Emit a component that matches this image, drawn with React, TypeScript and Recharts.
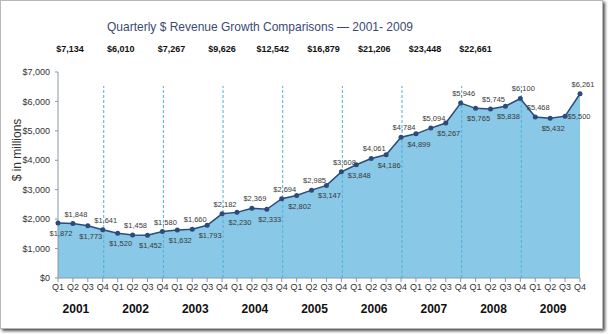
import React from 'react';
import { AreaChart, Area, XAxis, YAxis, ReferenceLine, LabelList } from 'recharts';

const years = ['2001', '2002', '2003', '2004', '2005', '2006', '2007', '2008', '2009'];
const quarters = ['Q1', 'Q2', 'Q3', 'Q4'];

const rev2001 = [1872, 1848, 1773, 1641];
const rev2002 = [1520, 1458, 1452, 1580];
const rev2003 = [1632, 1660, 1793, 2182];
const rev2004 = [2230, 2369, 2333, 2694];
const rev2005 = [2802, 2985, 3147, 3608];
const rev2006 = [3848, 4061, 4186, 4784];
const rev2007 = [4899, 5094, 5267, 5946];
const rev2008 = [5765, 5745, 5838, 6100];
const rev2009 = [5468, 5432, 5500, 6261];

const revenueByYear = [rev2001, rev2002, rev2003, rev2004, rev2005, rev2006, rev2007, rev2008, rev2009];
const yTicks = [0, 1000, 2000, 3000, 4000, 5000, 6000, 7000];

const data = years.flatMap((yr, yi) =>
  quarters.map((q, qi) => ({ key: `${yr} ${q}`, year: yr, quarter: q, revenue: revenueByYear[yi][qi] }))
);
const annualTotals = revenueByYear.map((a) => a.reduce((s, v) => s + v, 0));
const yearEnds = years.slice(0, 8).map((yr) => `${yr} Q4`);

const FONT = '"Liberation Sans", Arial, Helvetica, sans-serif';
const money = (v: number) => `$${v.toLocaleString('en-US')}`;

const labelSide = (i: number) => {
  if (i === 34) return 'right';
  if (i >= 32) return i === 33 ? 'below' : 'above';
  return i % 2 === 0 ? 'below' : 'above';
};

const PointLabel = (props: any) => {
  const { x, y, value, index } = props;
  const side = labelSide(index);
  let tx = x + 3;
  let ty = y - 7;
  if (side === 'below') ty = y + 13;
  if (side === 'right') {
    tx = x + 14;
    ty = y + 3;
  }
  return (
    <text x={tx} y={ty} textAnchor="middle" fontSize={7.5} fontFamily={FONT} fill="#3a3a3a">
      {money(value)}
    </text>
  );
};

const QuarterTick = (props: any) => {
  const { x, y, payload } = props;
  const [yr, q] = String(payload.value).split(' ');
  return (
    <g>
      <text x={x} y={y} dy="0.71em" textAnchor="middle" fontSize={9} fontFamily={FONT} fill="#333">
        {q}
      </text>
      {q === 'Q2' && (
        <text x={x + 3} y={y + 29} textAnchor="middle" fontSize={12} fontWeight="bold" fontFamily={FONT} fill="#111">
          {yr}
        </text>
      )}
    </g>
  );
};

const DashShape = (props: any) => {
  const { x1, y1, x2, y2 } = props;
  return (
    <line x1={x1 + 1} y1={y1} x2={x2 + 1} y2={y2 + 14} stroke="#4fb0d8" strokeWidth={1} strokeDasharray="3 2" />
  );
};

export default function App() {
  return (
    <div style={{ position: 'fixed', left: 0, top: 0, width: 608, height: 334, background: '#fff' }}>
      <div
        style={{
          position: 'absolute',
          left: 0,
          top: 0,
          width: 603,
          height: 329,
          boxSizing: 'border-box',
          border: '1px solid #b8b8b8',
          boxShadow: '2px 2px 3px rgba(0,0,0,0.7)',
          background: '#fff',
        }}
      />
      <div style={{ position: 'absolute', left: 0, top: 0 }}>
        <AreaChart width={600} height={328} data={data} margin={{ top: 72, right: 20, bottom: 0, left: 0 }}>
          <XAxis
            dataKey="key"
            interval={0}
            height={50}
            tickSize={4}
            tickMargin={2}
            tick={<QuarterTick />}
            axisLine={{ stroke: '#8a98aa' }}
            tickLine={{ stroke: '#8a98aa' }}
          />
          <YAxis
            width={58}
            domain={[0, 7000]}
            ticks={yTicks}
            tickFormatter={money}
            tickSize={3}
            tickMargin={5}
            tick={{ fontSize: 9, fill: '#333', fontFamily: FONT }}
            axisLine={{ stroke: '#8a98aa' }}
            tickLine={{ stroke: '#8a98aa' }}
          />
          <Area
            type="linear"
            dataKey="revenue"
            stroke="#2c4a7c"
            strokeWidth={1.5}
            fill="#89c8e6"
            fillOpacity={1}
            dot={{ r: 2.5, fill: '#2c4a7c', stroke: '#2c4a7c', strokeWidth: 0 }}
            activeDot={false}
            isAnimationActive={false}
          >
            <LabelList dataKey="revenue" content={<PointLabel />} />
          </Area>
          {yearEnds.map((k) => (
            <ReferenceLine key={k} x={k} shape={<DashShape />} />
          ))}
        </AreaChart>
      </div>
      <svg width={608} height={334} style={{ position: 'absolute', left: 0, top: 0, pointerEvents: 'none' }}>
        <text
          x={260}
          y={31}
          textAnchor="middle"
          fontSize={13.5}
          textLength={306}
          lengthAdjust="spacingAndGlyphs"
          fontFamily={FONT}
          fill="#3b4a72"
        >
          Quarterly $ Revenue Growth Comparisons — 2001- 2009
        </text>
        {annualTotals.map((t, i) => (
          <text key={i} x={70 + i * 50.7} y={52} textAnchor="middle" fontSize={9} fontWeight="bold" fontFamily={FONT} fill="#111">
            {money(t)}
          </text>
        ))}
        <text
          x={0}
          y={0}
          transform="translate(21,150) rotate(-90)"
          textAnchor="middle"
          fontSize={12}
          fontFamily={FONT}
          fill="#333"
        >
          $ in millions
        </text>
      </svg>
    </div>
  );
}
